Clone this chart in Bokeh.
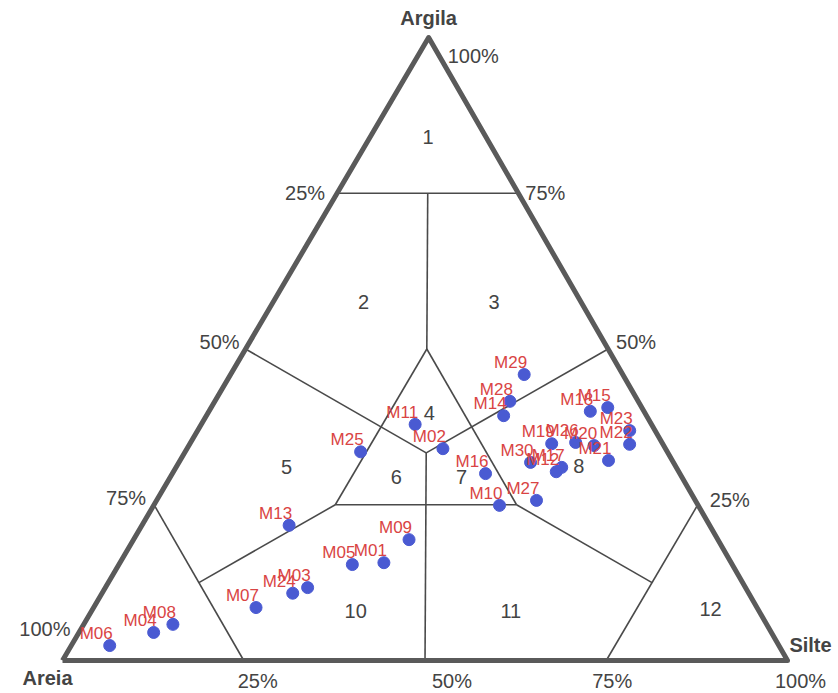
from bokeh.plotting import figure
from bokeh.models import Range1d, ColumnDataSource
from bokeh.core.properties import value
from bokeh.embed import file_html
from bokeh.resources import INLINE

# ---- data: sample composition (%) ----
samples = ["M01", "M02", "M03", "M04", "M05", "M06", "M07", "M08", "M09", "M10",
           "M11", "M12", "M13", "M14", "M15", "M16", "M17", "M18", "M19", "M20",
           "M21", "M22", "M23", "M24", "M25", "M26", "M27", "M28", "M29", "M30"]
sand = [47.9, 30.7, 60.4, 85.2, 52.4, 92.3, 69.1, 81.9, 42.6, 27.4,
        32.6, 16.9, 58.0, 19.7, 4.7, 26.8, 15.8, 7.4, 15.3, 9.6,
        8.8, 4.6, 3.5, 62.9, 42.3, 11.9, 21.9, 17.7, 13.6, 19.7]
silt = [36.4, 35.3, 27.9, 10.3, 32.2, 5.3, 22.4, 12.3, 38.0, 47.7,
        29.5, 52.8, 20.3, 41.0, 54.7, 43.2, 53.2, 52.6, 49.9, 55.9,
        59.1, 60.7, 59.6, 26.3, 24.2, 53.1, 52.4, 40.7, 40.5, 48.5]
clay = [15.7, 34.0, 11.7, 4.5, 15.4, 2.4, 8.5, 5.8, 19.4, 24.9,
        37.9, 30.3, 21.7, 39.3, 40.6, 30.0, 31.0, 40.0, 34.8, 34.5,
        32.1, 34.7, 36.9, 10.8, 33.5, 35.0, 25.7, 41.6, 45.9, 31.8]

corner_names = ["Areia", "Silte", "Argila"]
tick_values = [25, 50, 75, 100]
tick_labels = ["25%", "50%", "75%", "100%"]
class_names = ["1", "2", "3", "4", "5", "6", "7", "8", "10", "11", "12"]

# ---- classification scheme (sand, silt, clay) ----
THIRD = 100.0 / 3.0
boundaries = [
    ((25, 0, 75), (0, 25, 75)),
    ((12.5, 12.5, 75), (25, 25, 50)),
    ((25, 25, 50), (50, 25, 25)),
    ((25, 25, 50), (25, 50, 25)),
    ((50, 0, 50), (THIRD, THIRD, THIRD)),
    ((0, 50, 50), (THIRD, THIRD, THIRD)),
    ((THIRD, THIRD, THIRD), (50, 50, 0)),
    ((50, 25, 25), (25, 50, 25)),
    ((50, 25, 25), (75, 12.5, 12.5)),
    ((25, 50, 25), (12.5, 75, 12.5)),
    ((75, 0, 25), (75, 25, 0)),
    ((0, 75, 25), (25, 75, 0)),
]
class_pos = [(8, 8, 84), (30, 12.5, 57.5), (12, 30.5, 57.5), (29.7, 30.5, 39.8),
             (53.7, 15.2, 31.1), (39.4, 31.2, 29.4), (30.4, 40.2, 29.4), (13.3, 55.4, 31.3),
             (55.6, 36.4, 8.0), (34.2, 57.8, 8.0), (6.5, 85.2, 8.3)]

APEX = 0.505


def tern(sa, si, cl):
    t = sa + si + cl
    return (si + cl * APEX) * 100.0 / t, cl * 100.0 / t


FONT = value("Liberation Sans")
GREY = "#444444"

p = figure(width=834, height=692, x_range=Range1d(-8.552, 106.48), y_range=Range1d(-5.136, 105.94),
           output_backend="svg", toolbar_location=None, min_border=0,
           x_axis_type=None, y_axis_type=None)
p.grid.visible = False
p.outline_line_color = None
p.background_fill_color = "white"

# inner class boundaries
x0, y0, x1, y1 = [], [], [], []
for a, b in boundaries:
    xa, ya = tern(*a)
    xb, yb = tern(*b)
    x0.append(xa); y0.append(ya); x1.append(xb); y1.append(yb)
p.segment(x0, y0, x1, y1, line_color="#4a4a4a", line_width=1.6)

# outer triangle
tv = [tern(100, 0, 0), tern(0, 100, 0), tern(0, 0, 100), tern(100, 0, 0)]
p.line([v[0] for v in tv], [v[1] for v in tv], line_color="#5a5a5a", line_width=5, line_join="round")

# class numbers
cx = [tern(*c)[0] for c in class_pos]
cy = [tern(*c)[1] for c in class_pos]
p.text(cx, cy, text=class_names, text_font=FONT, text_font_size="20px", text_color=GREY,
       text_align="center", text_baseline="middle")

# samples
pts = [tern(a, b, c) for a, b, c in zip(sand, silt, clay)]
src = ColumnDataSource(dict(x=[q[0] for q in pts], y=[q[1] for q in pts], name=samples))
p.scatter("x", "y", source=src, size=12, fill_color="#4a5ad2", line_color="#4a5ad2")
p.text("x", "y", text="name", source=src, text_font=FONT, text_font_size="17px",
       text_color="#d94444", text_align="right", text_baseline="alphabetic",
       x_offset=3, y_offset=-12)

PCT = "20px"
# left edge: sand %
lx = [tern(v, 0, 100 - v)[0] for v in tick_values]
ly = [tern(v, 0, 100 - v)[1] for v in tick_values]
p.text(lx, ly, text=tick_labels, text_font=FONT, text_font_size=PCT, text_color=GREY,
       text_align="right", text_baseline="middle",
       x_offset=[-12, -6, -8, 8], y_offset=[0, -7, -7, -32])
# right edge: clay %
rx = [tern(0, 100 - v, v)[0] for v in tick_values]
ry = [tern(0, 100 - v, v)[1] for v in tick_values]
p.text(rx, ry, text=tick_labels, text_font=FONT, text_font_size=PCT, text_color=GREY,
       text_align="left", text_baseline="middle",
       x_offset=[12, 8, 7, 19], y_offset=[-5, -7, 0, 18])
# bottom edge: silt %
bx = [tern(100 - v, v, 0)[0] for v in tick_values]
by = [tern(100 - v, v, 0)[1] for v in tick_values]
p.text(bx, by, text=tick_labels, text_font=FONT, text_font_size=PCT, text_color=GREY,
       text_align="center", text_baseline="middle",
       x_offset=[14, 27, 6, 13], y_offset=[20, 20, 20, 20])

# corner names
nx = [tern(100, 0, 0)[0], tern(0, 100, 0)[0], tern(0, 0, 100)[0]]
ny = [tern(100, 0, 0)[1], tern(0, 100, 0)[1], tern(0, 0, 100)[1]]
p.text(nx, ny, text=corner_names, text_font=FONT, text_font_size="20px", text_font_style="bold",
       text_color=GREY, text_align="center", text_baseline="middle",
       x_offset=[-15, 23, 0], y_offset=[17, -16, -20])

open("out.html", "w").write(file_html(p, INLINE))
